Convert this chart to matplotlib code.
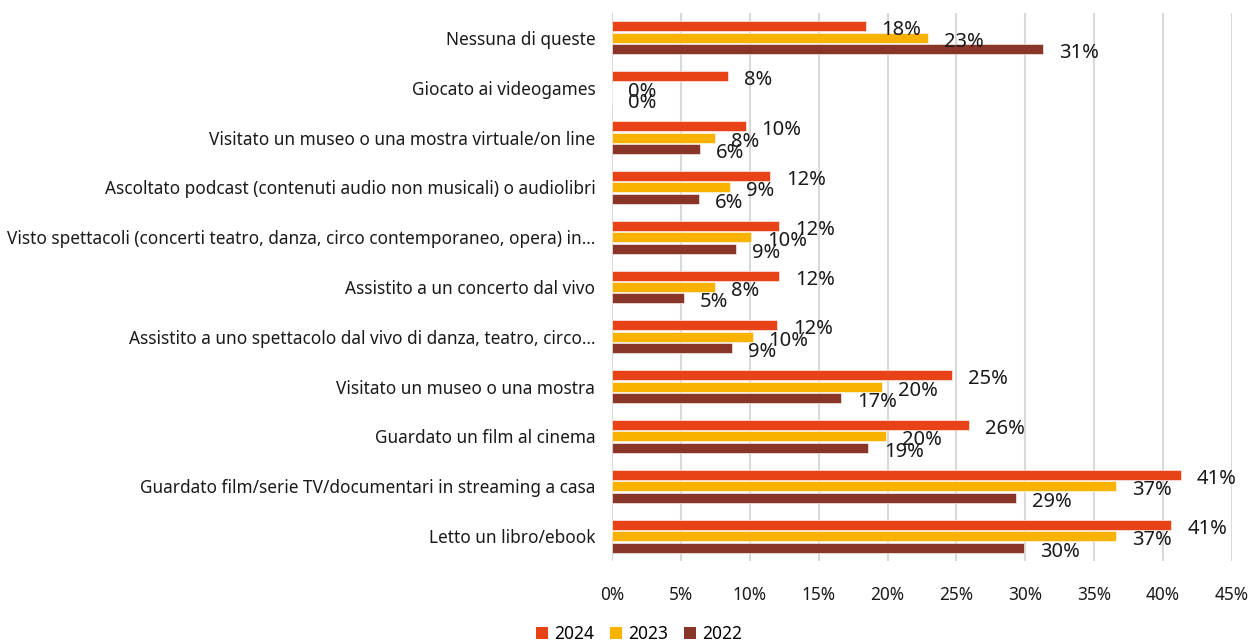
import matplotlib
matplotlib.use("Agg")
import matplotlib.pyplot as plt
from matplotlib.patches import Patch
import numpy as np

plt.rcParams["font.family"] = ["Noto Sans", "DejaVu Sans"]

categories = [
    "Nessuna di queste",
    "Giocato ai videogames",
    "Visitato un museo o una mostra virtuale/on line",
    "Ascoltato podcast (contenuti audio non musicali) o audiolibri",
    "Visto spettacoli (concerti teatro, danza, circo contemporaneo, opera) in\u2026",
    "Assistito a un concerto dal vivo",
    "Assistito a uno spettacolo dal vivo di danza, teatro, circo\u2026",
    "Visitato un museo o una mostra",
    "Guardato un film al cinema",
    "Guardato film/serie TV/documentari in streaming a casa",
    "Letto un libro/ebook",
]
years = ["2024", "2023", "2022"]
v2024 = [18.4, 8.4, 9.7, 11.5, 12.1, 12.1, 12.0, 24.7, 25.9, 41.3, 40.6]
v2023 = [22.9, 0.0, 7.5, 8.6, 10.1, 7.5, 10.2, 19.6, 19.9, 36.6, 36.6]
v2022 = [31.3, 0.0, 6.4, 6.3, 9.0, 5.2, 8.7, 16.6, 18.6, 29.3, 29.9]
colors = ["#E84316", "#F9B200", "#893527"]

fig = plt.figure(figsize=(12.55, 6.43), dpi=100)
ax = fig.add_axes([612 / 1255, 1 - 561 / 643, 620 / 1255, 548 / 643])

y = np.arange(len(categories))
step = 0.23
bar_h = 0.2
for k, (vals, c) in enumerate(zip([v2024, v2023, v2022], colors)):
    pos = y + (k - 1) * step
    ax.barh(pos, vals, height=bar_h, color=c, edgecolor="white", linewidth=0.4, zorder=3)
    for p, v in zip(pos, vals):
        ax.annotate(f"{v:.0f}%", (v, p), xytext=(16, -4), textcoords="offset pixels",
                    ha="left", va="center", fontsize=14.5, color="#1a1a1a", zorder=4)

ax.set_xlim(0, 45)
ax.set_ylim(len(categories) - 0.5, -0.5)
ax.set_xticks(np.arange(0, 46, 5))
ax.set_xticklabels([f"{t}%" for t in range(0, 46, 5)])
ax.set_yticks(y)
ax.set_yticklabels(categories)
ax.tick_params(axis="y", length=0, pad=12, labelsize=12.4, colors="#1a1a1a")
ax.tick_params(axis="x", length=0, pad=18, labelsize=12.4, colors="#1a1a1a")
ax.grid(axis="x", color="#D9D9D9", linewidth=1.5, zorder=0)
for s in ax.spines.values():
    s.set_visible(False)

handles = [Patch(facecolor=c, label=yr) for c, yr in zip(colors, years)]
fig.legend(handles=handles, loc="center", bbox_to_anchor=(639 / 1255, 1 - 634 / 643),
           ncol=3, frameon=False, fontsize=12.5, handlelength=0.7, handleheight=0.7,
           handletextpad=0.35, columnspacing=0.9, borderaxespad=0)

fig.savefig("out.png", dpi=100)
